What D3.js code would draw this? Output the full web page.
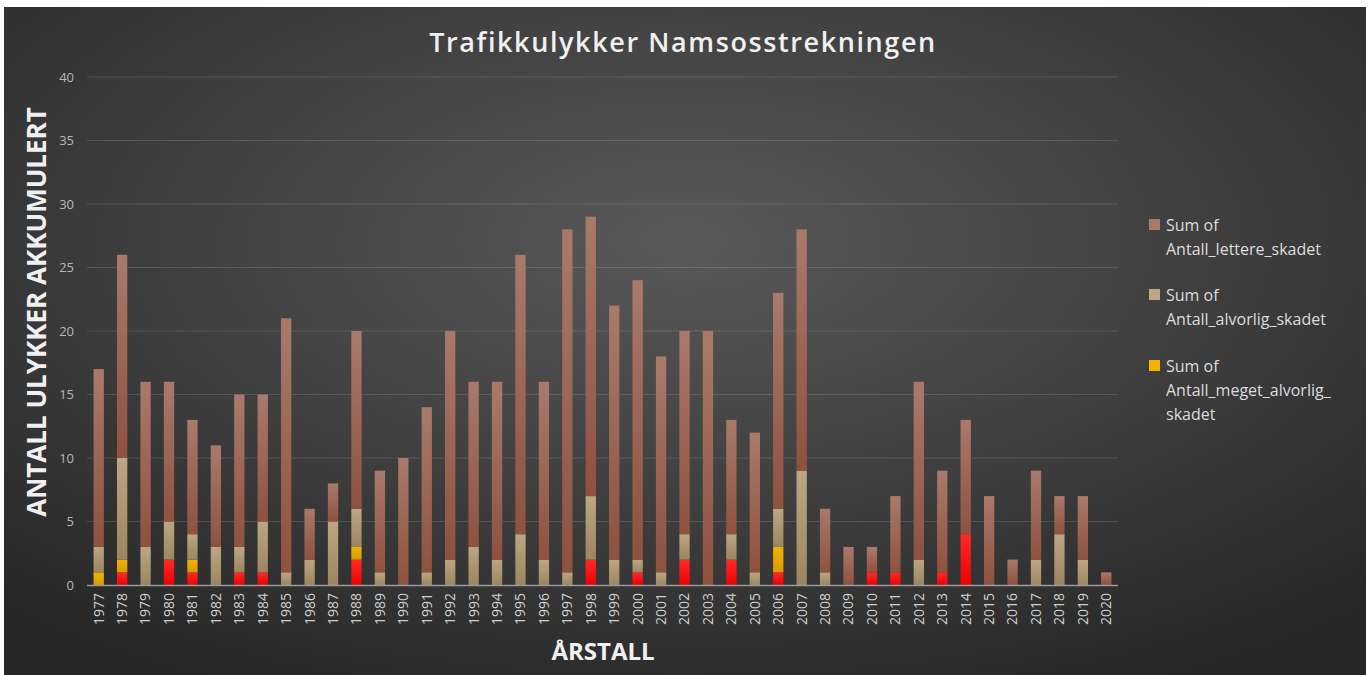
<!DOCTYPE html>
<html>
<head>
<meta charset="utf-8">
<script src="https://cdn.jsdelivr.net/npm/d3@7"></script>
<style>
  html, body { margin: 0; padding: 0; background: #ffffff; }
  svg { display: block; }
</style>
</head>
<body>
<svg width="1370" height="675"></svg>
<script>
// data
var years = ["1977","1978","1979","1980","1981","1982","1983","1984","1985","1986","1987","1988","1989","1990","1991","1992","1993","1994","1995","1996","1997","1998","1999","2000","2001","2002","2003","2004","2005","2006","2007","2008","2009","2010","2011","2012","2013","2014","2015","2016","2017","2018","2019","2020"];
var drepte =         [0,1,0,2,1,0,1,1,0,0,0,2,0,0,0,0,0,0,0,0,0,2,0,1,0,2,0,2,0,1,0,0,0,1,1,0,1,4,0,0,0,0,0,0];
var megetAlvorlig =  [1,1,0,0,1,0,0,0,0,0,0,1,0,0,0,0,0,0,0,0,0,0,0,0,0,0,0,0,0,2,0,0,0,0,0,0,0,0,0,0,0,0,0,0];
var alvorlig =       [2,8,3,3,2,3,2,4,1,2,5,3,1,0,1,2,3,2,4,2,1,5,2,1,1,2,0,2,1,3,9,1,0,0,0,2,0,0,0,0,2,4,2,0];
var lettere =        [14,16,13,11,9,8,12,10,20,4,3,14,8,10,13,18,13,14,22,14,27,22,20,22,17,16,20,9,11,17,19,5,3,2,6,14,8,9,7,2,7,3,5,1];
var yTicks = [0,5,10,15,20,25,30,35,40];

var seriesKeys = ["drepte","meget","alvorlig","lettere"];
var legendItems = [
  {key: "lettere", lines: ["Sum of", "Antall_lettere_skadet"]},
  {key: "alvorlig", lines: ["Sum of", "Antall_alvorlig_skadet"]},
  {key: "meget", lines: ["Sum of", "Antall_meget_alvorlig_", "skadet"]}
];

var colors = {
  drepte:   ["#ff2a2a", "#ee0000"],
  meget:    ["#f0b400", "#d99a00"],
  alvorlig: ["#bda683", "#9c8560"],
  lettere:  ["#a97a6a", "#8f5140"]
};

var table = years.map(function(y, i) {
  return {year: y, drepte: drepte[i], meget: megetAlvorlig[i], alvorlig: alvorlig[i], lettere: lettere[i]};
});
var stacked = d3.stack().keys(seriesKeys)(table);

var svg = d3.select("svg");
var defs = svg.append("defs");

var bg = defs.append("radialGradient").attr("id", "bg")
  .attr("cx", "50%").attr("cy", "35%").attr("r", "75%");
bg.append("stop").attr("offset", "0%").attr("stop-color", "#595959");
bg.append("stop").attr("offset", "100%").attr("stop-color", "#262626");

seriesKeys.forEach(function(k) {
  var g = defs.append("linearGradient").attr("id", "g_" + k)
    .attr("x1", 0).attr("y1", 0).attr("x2", 0).attr("y2", 1);
  g.append("stop").attr("offset", "0%").attr("stop-color", colors[k][0]);
  g.append("stop").attr("offset", "100%").attr("stop-color", colors[k][1]);
});

// chart frame
svg.append("rect").attr("x", 4).attr("y", 7).attr("width", 1362).attr("height", 668)
  .attr("fill", "url(#bg)");

var plotLeft = 87, plotRight = 1118, plotTop = 77, plotBottom = 585;

var x = d3.scaleBand().domain(years).range([plotLeft, plotRight]).paddingInner(0.56).paddingOuter(0.28);
var y = d3.scaleLinear().domain([0, 40]).range([plotBottom, plotTop]);

// gridlines
svg.append("g").selectAll("line").data(yTicks.slice(1)).enter().append("line")
  .attr("x1", plotLeft).attr("x2", plotRight)
  .attr("y1", function(d) { return y(d); }).attr("y2", function(d) { return y(d); })
  .attr("stroke", "#ffffff").attr("stroke-opacity", 0.13).attr("stroke-width", 1);

// y tick labels
svg.append("g").selectAll("text").data(yTicks).enter().append("text")
  .attr("x", 74).attr("y", function(d) { return y(d); })
  .attr("dy", "0.35em").attr("text-anchor", "end")
  .attr("fill", "#b8b8b8").attr("font-family", "Open Sans, sans-serif").attr("font-size", 13)
  .text(function(d) { return d; });

// bars
svg.append("g").selectAll("g").data(stacked).enter().append("g")
  .attr("fill", function(d) { return "url(#g_" + d.key + ")"; })
  .selectAll("rect").data(function(d) { return d; }).enter().append("rect")
  .attr("x", function(d) { return x(d.data.year); })
  .attr("y", function(d) { return y(d[1]); })
  .attr("width", x.bandwidth())
  .attr("height", function(d) { return y(d[0]) - y(d[1]); });

// x axis line
svg.append("line").attr("x1", plotLeft).attr("x2", plotRight).attr("y1", plotBottom + 0.5).attr("y2", plotBottom + 0.5)
  .attr("stroke", "#9a9a9a").attr("stroke-width", 1.5);

// x tick labels
svg.append("g").selectAll("text").data(years).enter().append("text")
  .attr("transform", function(d) { return "translate(" + (x(d) + x.bandwidth() / 2) + "," + 593 + ") rotate(-90)"; })
  .attr("dy", "0.35em").attr("text-anchor", "end")
  .attr("fill", "#cfcfcf").attr("font-family", "Open Sans, sans-serif").attr("font-size", 14)
  .text(function(d) { return d; });

// title
svg.append("text").attr("x", 683).attr("y", 52).attr("text-anchor", "middle")
  .attr("fill", "#f0f0f0").attr("font-family", "Open Sans, sans-serif").attr("font-weight", "600")
  .attr("font-size", 27).attr("letter-spacing", 1.6)
  .text("Trafikkulykker Namsosstrekningen");

// axis titles
svg.append("text").attr("transform", "translate(46,312) rotate(-90)").attr("text-anchor", "middle")
  .attr("fill", "#f0f0f0").attr("font-family", "Open Sans, sans-serif").attr("font-weight", "700")
  .attr("font-size", 26).text("ANTALL ULYKKER AKKUMULERT");

svg.append("text").attr("x", 603).attr("y", 660).attr("text-anchor", "middle")
  .attr("fill", "#f0f0f0").attr("font-family", "Open Sans, sans-serif").attr("font-weight", "700")
  .attr("font-size", 24).text("ÅRSTALL");

// legend
var legendTop = [225, 295, 366];
var lg = svg.append("g").selectAll("g").data(legendItems).enter().append("g")
  .attr("transform", function(d, i) { return "translate(1149," + legendTop[i] + ")"; });
lg.append("rect").attr("x", 0).attr("y", -6).attr("width", 11).attr("height", 11)
  .attr("fill", function(d) { return colors[d.key][0]; });
lg.each(function(d) {
  d3.select(this).selectAll("text").data(d.lines).enter().append("text")
    .attr("x", 17).attr("y", function(t, j) { return j * 24; })
    .attr("dy", "0.35em")
    .attr("fill", "#dcdcdc").attr("font-family", "Open Sans, sans-serif").attr("font-size", 16)
    .text(function(t) { return t; });
});
</script>
</body>
</html>
